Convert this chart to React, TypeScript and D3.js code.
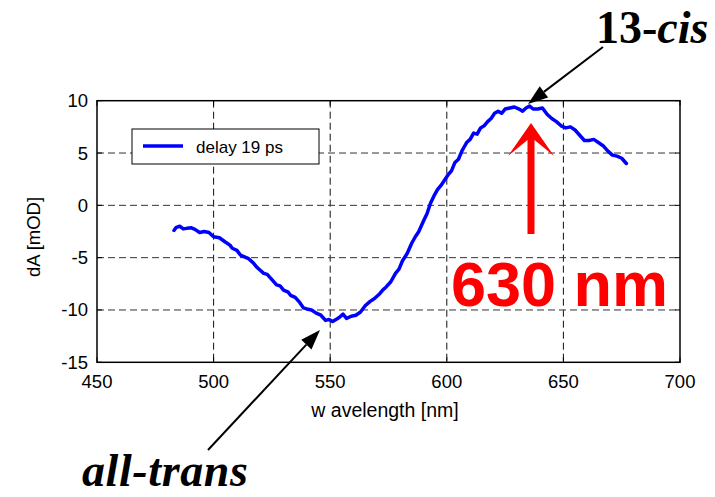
import React, { useRef, useEffect } from 'react';
import * as d3 from 'd3';

// wavelength [nm] and signal dA [mOD] at delay 19 ps
const wavelength = [
  483, 484, 485.5, 487, 488.5, 490.5, 492, 494, 496, 498, 500, 502.5, 505, 507, 508, 510,
  511.5, 513, 515, 517, 518.5, 520, 521.5, 523, 525, 527, 528.5, 530, 532, 533, 535, 537,
  538.5, 540, 542, 544, 546, 548, 549.5, 551, 552.5, 554, 555.5, 557, 559, 561, 563, 565,
  567, 569, 571, 572.5, 574, 576, 578, 579.5, 581, 583, 585, 586.5, 588, 590, 591.5, 593,
  594.5, 596, 597.5, 599, 600.5, 602, 603.5, 605, 606.5, 607.5, 608.5, 610, 611.5, 613,
  614.5, 616, 617.5, 619, 620.5, 622, 623.5, 625, 627, 629, 631, 632.5, 634, 635.5, 637,
  639, 641, 643, 645, 647, 649, 651, 653, 655, 657, 659, 661, 663, 665, 667, 669, 671,
  673, 675, 677,
];
const dA = [
  -2.4, -2.1, -2.0, -2.25, -2.2, -2.15, -2.3, -2.6, -2.5, -2.6, -3.0, -3.1, -3.5, -3.8, -4.1, -4.3,
  -4.75, -4.9, -5.1, -5.5, -5.9, -6.2, -6.5, -6.6, -7.1, -7.6, -7.7, -8.1, -8.3, -8.6, -8.8, -9.3,
  -9.8, -9.9, -10.0, -10.3, -10.5, -11.0, -10.9, -11.1, -10.9, -10.7, -10.4, -10.8, -10.6, -10.5, -10.2, -9.6,
  -9.2, -8.9, -8.5, -8.1, -7.8, -7.3, -6.5, -6.1, -5.3, -4.6, -3.6, -3.0, -2.5, -1.5, -0.8, 0.2,
  0.9, 1.5, 1.9, 2.4, 2.9, 3.3, 4.1, 4.4, 5.2, 5.6, 6.0, 6.3, 6.9, 6.8,
  7.4, 7.6, 8.0, 8.3, 8.8, 9.0, 8.8, 9.2, 9.3, 9.4, 9.2, 9.0, 9.3, 9.5, 9.2,
  9.2, 9.3, 8.7, 8.3, 8.0, 7.6, 7.4, 7.5, 7.2, 6.7, 6.2, 6.2, 6.3, 6.0, 5.7, 5.2, 4.8,
  4.7, 4.5, 4.0,
];
const xTicks = [450, 500, 550, 600, 650, 700];
const yTicks = [-15, -10, -5, 0, 5, 10];

const W = 715;
const H = 497;
const left = 97, right = 680, top = 100.7, bottom = 362.3;

const App = () => {
  const svgRef = useRef(null);

  useEffect(() => {
    const svg = d3.select(svgRef.current);
    svg.selectAll('*').remove();

    const x = d3.scaleLinear().domain([450, 700]).range([left, right]);
    const y = d3.scaleLinear().domain([-15, 10]).range([bottom, top]);
    const font = 'Arial, "Liberation Sans", sans-serif';
    const serif = '"Times New Roman", "Liberation Serif", serif';

    svg.append('rect').attr('width', W).attr('height', H).attr('fill', '#fff');

    // grid
    const grid = svg.append('g');
    grid.selectAll('line.v')
      .data(xTicks.slice(1, -1))
      .enter().append('line')
      .attr('x1', d => x(d)).attr('x2', d => x(d))
      .attr('y1', top).attr('y2', bottom)
      .attr('stroke', '#111').attr('stroke-width', 1).attr('stroke-dasharray', '7,4');
    grid.selectAll('line.h')
      .data(yTicks.slice(1, -1))
      .enter().append('line')
      .attr('x1', left).attr('x2', right)
      .attr('y1', d => y(d)).attr('y2', d => y(d))
      .attr('stroke', '#333').attr('stroke-width', 1).attr('stroke-dasharray', '7,4');

    // small inward ticks on all four sides
    const ticks = svg.append('g').attr('stroke', '#000').attr('stroke-width', 1);
    xTicks.forEach(t => {
      ticks.append('line').attr('x1', x(t)).attr('x2', x(t)).attr('y1', bottom).attr('y2', bottom - 5);
      ticks.append('line').attr('x1', x(t)).attr('x2', x(t)).attr('y1', top).attr('y2', top + 5);
    });
    yTicks.forEach(t => {
      ticks.append('line').attr('x1', left).attr('x2', left + 5).attr('y1', y(t)).attr('y2', y(t));
      ticks.append('line').attr('x1', right).attr('x2', right - 5).attr('y1', y(t)).attr('y2', y(t));
    });

    svg.append('rect')
      .attr('x', left).attr('y', top)
      .attr('width', right - left).attr('height', bottom - top)
      .attr('fill', 'none').attr('stroke', '#000').attr('stroke-width', 1.5);

    // tick labels
    svg.selectAll('text.xt')
      .data(xTicks)
      .enter().append('text')
      .attr('x', d => x(d)).attr('y', 388)
      .attr('text-anchor', 'middle')
      .style('font-family', font).style('font-size', '18.5px')
      .text(d => d);
    svg.selectAll('text.yt')
      .data(yTicks)
      .enter().append('text')
      .attr('x', 88).attr('y', d => y(d) + 6.5)
      .attr('text-anchor', 'end')
      .style('font-family', font).style('font-size', '18.5px')
      .text(d => d);

    svg.append('text')
      .attr('x', 385).attr('y', 417)
      .attr('text-anchor', 'middle')
      .style('font-family', font).style('font-size', '19.5px')
      .text('w avelength [nm]');
    svg.append('text')
      .attr('transform', 'translate(40,237) rotate(-90)')
      .attr('text-anchor', 'middle')
      .style('font-family', font).style('font-size', '18.5px')
      .text('dA [mOD]');

    // the spectrum
    const line = d3.line()
      .x((d, i) => x(wavelength[i]))
      .y(d => y(d));
    svg.append('path')
      .datum(dA)
      .attr('d', line)
      .attr('fill', 'none')
      .attr('stroke', '#0000ff')
      .attr('stroke-width', 3.5)
      .attr('stroke-linejoin', 'round')
      .attr('stroke-linecap', 'round');

    // legend
    const lg = svg.append('g');
    lg.append('rect')
      .attr('x', 132).attr('y', 129).attr('width', 187).attr('height', 35)
      .attr('fill', '#fff').attr('stroke', '#000').attr('stroke-width', 1);
    lg.append('line')
      .attr('x1', 143).attr('x2', 183).attr('y1', 146).attr('y2', 146)
      .attr('stroke', '#0000ff').attr('stroke-width', 3.5);
    lg.append('text')
      .attr('x', 196).attr('y', 152.5)
      .style('font-family', font).style('font-size', '17px')
      .text('delay 19 ps');

    // black annotation arrows
    const arrow = (x1, y1, x2, y2) => {
      const a = Math.atan2(y2 - y1, x2 - x1);
      const len = 20, half = 7;
      const bx = x2 - len * Math.cos(a), by = y2 - len * Math.sin(a);
      svg.append('line')
        .attr('x1', x1).attr('y1', y1).attr('x2', bx).attr('y2', by)
        .attr('stroke', '#000').attr('stroke-width', 2);
      const px = -Math.sin(a) * half, py = Math.cos(a) * half;
      svg.append('path')
        .attr('d', `M${x2},${y2} L${bx + px},${by + py} L${bx - px},${by - py} Z`)
        .attr('fill', '#000');
    };
    arrow(603, 47, 528, 104);
    arrow(208, 450, 320, 330);

    // 13-cis label
    const cis = svg.append('text')
      .attr('x', 596).attr('y', 43)
      .style('font-family', serif).style('font-size', '46px').style('font-weight', 'bold');
    cis.append('tspan').text('13-');
    cis.append('tspan').style('font-style', 'italic').text('cis');

    svg.append('text')
      .attr('x', 82).attr('y', 486)
      .style('font-family', serif).style('font-size', '46px')
      .style('font-weight', 'bold').style('font-style', 'italic')
      .style('letter-spacing', '0.6px')
      .text('all-trans');

    // red arrow and label
    svg.append('path')
      .attr('d', 'M531,123 L554,156 L534.5,140 L534.5,234 L527.5,234 L527.5,140 L508,156 Z')
      .attr('fill', '#ff0000');
    svg.append('text')
      .attr('x', 451).attr('y', 306)
      .style('font-family', font).style('font-size', '63px').style('font-weight', 'bold')
      .attr('fill', '#ff0000')
      .text('630 nm');
  }, []);

  return (
    <svg
      ref={svgRef}
      width={W}
      height={H}
      style={{ position: 'absolute', left: 0, top: 0, display: 'block' }}
    />
  );
};

export default App;
